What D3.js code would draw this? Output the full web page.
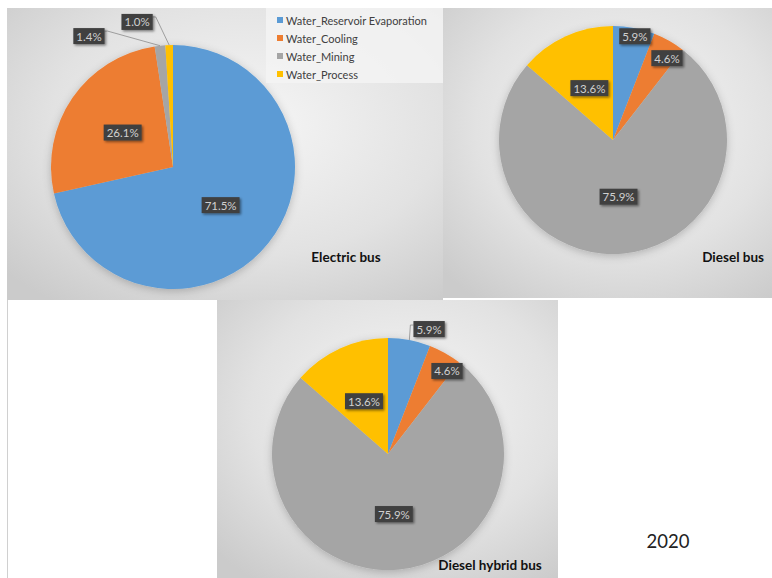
<!DOCTYPE html>
<html>
<head>
<meta charset="utf-8">
<script src="https://cdn.jsdelivr.net/npm/d3@7"></script>
<style>
  html, body { margin: 0; padding: 0; background: #ffffff; }
  svg { display: block; }
</style>
</head>
<body>
<svg id="chart" width="772" height="578"></svg>
<script>
// ---------- DATA ----------
const categories = ["Water_Reservoir Evaporation", "Water_Cooling", "Water_Mining", "Water_Process"];
const electricBusValues = [71.5, 26.1, 1.4, 1.0];
const dieselBusValues = [5.9, 4.6, 75.9, 13.6];
const dieselHybridBusValues = [5.9, 4.6, 75.9, 13.6];
const chartTitles = ["Electric bus", "Diesel bus", "Diesel hybrid bus"];
const yearLabel = "2020";
const sliceColors = ["#5B9BD5", "#ED7D31", "#A5A5A5", "#FFC000"];

// ---------- LAYOUT / STYLE ----------
const panels = [
  { values: electricBusValues, title: chartTitles[0],
    box: [7, 8, 436, 292], cx: 173, cy: 167, r: 122,
    titlePos: [346, 262], titleAnchor: "middle",
    labels: [ {f: 0.5}, {f: 0.5},
              {f: 1.275, ang: 327.3, leader: true},
              {f: 1.225, ang: 346.1, leader: true} ] },
  { values: dieselBusValues, title: chartTitles[1],
    box: [443, 8, 329, 290], cx: 613, cy: 140, r: 114,
    titlePos: [764, 262], titleAnchor: "end",
    labels: [ {f: 0.93, ang: 11.9}, {f: 0.86, ang: 33.4}, {f: 0.5}, {f: 0.5} ] },
  { values: dieselHybridBusValues, title: chartTitles[2],
    box: [217, 300, 341, 278], cx: 388, cy: 454, r: 116,
    titlePos: [490, 570], titleAnchor: "middle",
    labels: [ {f: 1.134, ang: 18.2, leader: true, vertical: true},
              {f: 0.878, ang: 35.4}, {f: 0.52}, {f: 0.5} ] }
];

const svg = d3.select("#chart");
const defs = svg.append("defs");

const bg = defs.append("radialGradient").attr("id", "bgGrad")
  .attr("cx", "55%").attr("cy", "40%").attr("r", "75%");
bg.append("stop").attr("offset", "0%").attr("stop-color", "#f6f6f6");
bg.append("stop").attr("offset", "60%").attr("stop-color", "#e2e2e2");
bg.append("stop").attr("offset", "100%").attr("stop-color", "#cbcbcb");

const pieShadow = defs.append("filter").attr("id", "pieShadow")
  .attr("x", "-20%").attr("y", "-20%").attr("width", "140%").attr("height", "140%");
pieShadow.append("feDropShadow").attr("dx", 0).attr("dy", 2).attr("stdDeviation", 4)
  .attr("flood-color", "#000").attr("flood-opacity", 0.22);

const boxShadow = defs.append("filter").attr("id", "boxShadow")
  .attr("x", "-30%").attr("y", "-30%").attr("width", "170%").attr("height", "180%");
boxShadow.append("feDropShadow").attr("dx", 1.5).attr("dy", 1.5).attr("stdDeviation", 1.2)
  .attr("flood-color", "#000").attr("flood-opacity", 0.45);

// faint left border below first panel
svg.append("line").attr("x1", 7.5).attr("x2", 7.5).attr("y1", 300).attr("y2", 578)
  .attr("stroke", "#d0d0d0").attr("stroke-width", 1);

const pie = d3.pie().sort(null).value(d => d);
const toRad = deg => deg * Math.PI / 180;

panels.forEach((p, pi) => {
  const [bx, by, bw, bh] = p.box;
  svg.append("rect").attr("x", bx).attr("y", by).attr("width", bw).attr("height", bh)
    .attr("fill", "url(#bgGrad)");

  const g = svg.append("g").attr("transform", `translate(${p.cx},${p.cy})`);
  const arc = d3.arc().innerRadius(0).outerRadius(p.r);
  const arcs = pie(p.values);

  g.append("g").attr("filter", "url(#pieShadow)")
    .selectAll("path").data(arcs).join("path")
    .attr("d", arc)
    .attr("fill", (d, i) => sliceColors[i]);

  const leaderG = g.append("g");
  const labelG = g.append("g");

  const total = d3.sum(p.values);
  arcs.forEach((d, i) => {
    const cfg = p.labels[i];
    const mid = (d.startAngle + d.endAngle) / 2;
    const a = cfg.ang !== undefined ? toRad(cfg.ang) : mid;
    const lr = cfg.f * p.r;
    const lx = Math.sin(a) * lr, ly = -Math.cos(a) * lr;
    const txt = (d.data / total * 100).toFixed(1) + "%";

    const lg = labelG.append("g");
    const t = lg.append("text").attr("x", lx).attr("y", ly)
      .attr("text-anchor", "middle").attr("dominant-baseline", "central")
      .attr("font-family", "Lato, 'Open Sans', sans-serif").attr("font-size", 11.5)
      .attr("fill", "#d0d0d0").text(txt);
    const bb = t.node().getBBox();
    const padX = 3, padY = 1.5;
    const rx0 = bb.x - padX, ry0 = bb.y - padY, rw = bb.width + 2 * padX, rh = bb.height + 2 * padY;
    lg.insert("rect", "text").attr("x", rx0).attr("y", ry0).attr("width", rw).attr("height", rh)
      .attr("fill", "#404040").attr("filter", "url(#boxShadow)");

    if (cfg.leader) {
      const ex = Math.sin(mid) * p.r, ey = -Math.cos(mid) * p.r;
      let pts;
      if (cfg.vertical) {
        const yy = ry0 + 4;
        pts = [[ex, ey], [ex + 1, yy], [rx0, yy]];
      } else {
        const left = lx < ex;
        const sx = left ? rx0 + rw : rx0;
        const yy = ry0 + 3;
        pts = [[sx, yy], [sx + (left ? 3 : -3), yy], [ex, ey]];
      }
      leaderG.append("path").attr("d", d3.line()(pts))
        .attr("fill", "none").attr("stroke", "#8c8c8c").attr("stroke-width", 0.8);
    }
  });

  svg.append("text").attr("x", p.titlePos[0]).attr("y", p.titlePos[1])
    .attr("text-anchor", p.titleAnchor)
    .attr("font-family", "Lato, 'Open Sans', sans-serif").attr("font-weight", "bold")
    .attr("font-size", 13.5).attr("fill", "#111").text(p.title);
});

// Legend
const legendG = svg.append("g");
legendG.append("rect").attr("x", 266).attr("y", 8).attr("width", 177).attr("height", 75)
  .attr("fill", "#f3f3f3").attr("opacity", 0.85);
const legendScale = d3.scalePoint().domain(categories).range([20, 74]);
const items = legendG.selectAll("g.item").data(categories).join("g")
  .attr("transform", d => `translate(277,${legendScale(d)})`);
items.append("rect").attr("x", 0).attr("y", -3).attr("width", 6).attr("height", 6)
  .attr("fill", (d, i) => sliceColors[i]);
items.append("text").attr("x", 9).attr("y", 0).attr("dominant-baseline", "central")
  .attr("font-family", "Lato, 'Open Sans', sans-serif").attr("font-size", 11)
  .attr("fill", "#404040").text(d => d);

// Year label
svg.append("text").attr("x", 668).attr("y", 548).attr("text-anchor", "middle")
  .attr("font-family", "Lato, 'Open Sans', sans-serif").attr("font-size", 18.5)
  .attr("fill", "#222").text(yearLabel);
</script>
</body>
</html>
